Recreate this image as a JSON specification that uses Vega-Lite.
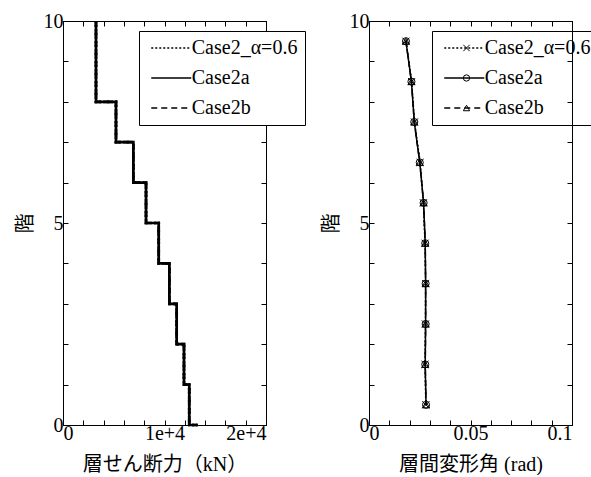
{
  "$schema": "https://vega.github.io/schema/vega-lite/v6.json",
  "background": "white",
  "padding": {"left": 14, "top": 10, "right": 0, "bottom": 0},
  "spacing": 14,
  "config": {
    "font": "Liberation Serif, Times New Roman, serif",
    "view": {"stroke": "black", "strokeWidth": 1},
    "axis": {
      "grid": false,
      "domainColor": "black",
      "tickColor": "black",
      "tickSize": -5,
      "labelFont": "Liberation Serif, Times New Roman, serif",
      "labelFontSize": 20,
      "labelColor": "black",
      "labelPadding": 3,
      "titleFont": "Liberation Serif, Noto Sans CJK JP, serif",
      "titleFontSize": 20,
      "titleFontWeight": "normal",
      "titleColor": "black"
    },
    "axisLeft": {"titlePadding": 8, "labelPadding": 5},
    "axisBottom": {"titlePadding": 11},
    "legend": {
      "labelFont": "Liberation Serif, Times New Roman, serif",
      "labelFontSize": 20,
      "labelColor": "black",
      "padding": 7,
      "rowPadding": 10
    }
  },
  "datasets": {
    "shear": [
      {"case": "Case2_α=0.6", "floor": 10, "Q": 3250},
      {"case": "Case2_α=0.6", "floor": 9, "Q": 3250},
      {"case": "Case2_α=0.6", "floor": 8, "Q": 5220},
      {"case": "Case2_α=0.6", "floor": 7, "Q": 6930},
      {"case": "Case2_α=0.6", "floor": 6, "Q": 8180},
      {"case": "Case2_α=0.6", "floor": 5, "Q": 9430},
      {"case": "Case2_α=0.6", "floor": 4, "Q": 10480},
      {"case": "Case2_α=0.6", "floor": 3, "Q": 11200},
      {"case": "Case2_α=0.6", "floor": 2, "Q": 11920},
      {"case": "Case2_α=0.6", "floor": 1, "Q": 12440},
      {"case": "Case2_α=0.6", "floor": 0, "Q": 13270},
      {"case": "Case2a", "floor": 10, "Q": 3250},
      {"case": "Case2a", "floor": 9, "Q": 3250},
      {"case": "Case2a", "floor": 8, "Q": 5220},
      {"case": "Case2a", "floor": 7, "Q": 6930},
      {"case": "Case2a", "floor": 6, "Q": 8180},
      {"case": "Case2a", "floor": 5, "Q": 9430},
      {"case": "Case2a", "floor": 4, "Q": 10480},
      {"case": "Case2a", "floor": 3, "Q": 11200},
      {"case": "Case2a", "floor": 2, "Q": 11920},
      {"case": "Case2a", "floor": 1, "Q": 12440},
      {"case": "Case2a", "floor": 0, "Q": 13270},
      {"case": "Case2b", "floor": 10, "Q": 3250},
      {"case": "Case2b", "floor": 9, "Q": 3250},
      {"case": "Case2b", "floor": 8, "Q": 5220},
      {"case": "Case2b", "floor": 7, "Q": 6930},
      {"case": "Case2b", "floor": 6, "Q": 8180},
      {"case": "Case2b", "floor": 5, "Q": 9430},
      {"case": "Case2b", "floor": 4, "Q": 10480},
      {"case": "Case2b", "floor": 3, "Q": 11200},
      {"case": "Case2b", "floor": 2, "Q": 11920},
      {"case": "Case2b", "floor": 1, "Q": 12440},
      {"case": "Case2b", "floor": 0, "Q": 13270}
    ],
    "drift": [
      {"case": "Case2_α=0.6", "floor": 9.5, "d": 0.0182},
      {"case": "Case2_α=0.6", "floor": 8.5, "d": 0.0210},
      {"case": "Case2_α=0.6", "floor": 7.5, "d": 0.0224},
      {"case": "Case2_α=0.6", "floor": 6.5, "d": 0.0252},
      {"case": "Case2_α=0.6", "floor": 5.5, "d": 0.0268},
      {"case": "Case2_α=0.6", "floor": 4.5, "d": 0.0276},
      {"case": "Case2_α=0.6", "floor": 3.5, "d": 0.0279},
      {"case": "Case2_α=0.6", "floor": 2.5, "d": 0.0278},
      {"case": "Case2_α=0.6", "floor": 1.5, "d": 0.0276},
      {"case": "Case2_α=0.6", "floor": 0.5, "d": 0.0280},
      {"case": "Case2a", "floor": 9.5, "d": 0.0182},
      {"case": "Case2a", "floor": 8.5, "d": 0.0209},
      {"case": "Case2a", "floor": 7.5, "d": 0.0223},
      {"case": "Case2a", "floor": 6.5, "d": 0.0250},
      {"case": "Case2a", "floor": 5.5, "d": 0.0269},
      {"case": "Case2a", "floor": 4.5, "d": 0.0277},
      {"case": "Case2a", "floor": 3.5, "d": 0.0279},
      {"case": "Case2a", "floor": 2.5, "d": 0.0279},
      {"case": "Case2a", "floor": 1.5, "d": 0.0277},
      {"case": "Case2a", "floor": 0.5, "d": 0.0281},
      {"case": "Case2b", "floor": 9.5, "d": 0.0182},
      {"case": "Case2b", "floor": 8.5, "d": 0.0209},
      {"case": "Case2b", "floor": 7.5, "d": 0.0223},
      {"case": "Case2b", "floor": 6.5, "d": 0.0250},
      {"case": "Case2b", "floor": 5.5, "d": 0.0269},
      {"case": "Case2b", "floor": 4.5, "d": 0.0277},
      {"case": "Case2b", "floor": 3.5, "d": 0.0279},
      {"case": "Case2b", "floor": 2.5, "d": 0.0279},
      {"case": "Case2b", "floor": 1.5, "d": 0.0277},
      {"case": "Case2b", "floor": 0.5, "d": 0.0281}
    ]
  },
  "hconcat": [
    {
      "width": 203,
      "height": 404,
      "data": {"name": "shear"},
      "layer": [
        {
          "mark": {"type": "line", "interpolate": "step-before", "strokeWidth": 2.7, "color": "black"},
          "encoding": {
            "x": {"field": "Q", "type": "quantitative",
              "scale": {"domain": [0, 20000], "nice": false, "zero": false},
              "axis": {"orient": "bottom", "values": [0,2000,4000,6000,8000,10000,12000,14000,16000,18000,20000],
                "labelExpr": "datum.value == 0 ? '0' : datum.value == 10000 ? '1e+4' : datum.value == 20000 ? '2e+4' : ''",
                "title": "層せん断力（kN）"}},
            "y": {"field": "floor", "type": "quantitative",
              "scale": {"domain": [0, 10], "nice": false},
              "axis": {"orient": "left", "values": [0,1,2,3,4,5,6,7,8,9,10],
                "labelExpr": "datum.value % 5 == 0 ? datum.label : ''",
                "title": "階"}},
            "order": {"field": "floor", "sort": "descending"},
            "strokeDash": {"field": "case", "type": "nominal",
              "scale": {"domain": ["Case2_α=0.6", "Case2a", "Case2b"], "range": [[2, 2], [1, 0], [6, 4]]},
              "legend": {"orient": "none", "legendX": 76, "legendY": 10, "title": null,
                "symbolType": "M-4,0H4", "symbolSize": 100, "symbolStrokeWidth": 1.5, "symbolStrokeColor": "black",
                "symbolOffset": 15.25, "labelOffset": 10.5, "strokeColor": "black", "fillColor": "white"}}
          }
        },
        {
          "mark": {"type": "line", "opacity": 0},
          "encoding": {
            "x": {"field": "Q", "type": "quantitative",
              "axis": {"orient": "top", "values": [0,2000,4000,6000,8000,10000,12000,14000,16000,18000,20000], "labels": false, "title": null}},
            "y": {"field": "floor", "type": "quantitative",
              "axis": {"orient": "right", "values": [0,1,2,3,4,5,6,7,8,9,10], "labels": false, "title": null}},
            "order": {"field": "floor", "sort": "descending"},
            "detail": {"field": "case"}
          }
        }
      ],
      "resolve": {"axis": {"x": "independent", "y": "independent"}}
    },
    {
      "width": 203,
      "height": 404,
      "data": {"name": "drift"},
      "layer": [
        {
          "mark": {"type": "line", "strokeWidth": 1.5, "color": "black"},
          "encoding": {
            "x": {"field": "d", "type": "quantitative",
              "scale": {"domain": [0, 0.1], "nice": false},
              "axis": {"orient": "bottom", "values": [0,0.01,0.02,0.03,0.04,0.05,0.06,0.07,0.08,0.09,0.1],
                "labelExpr": "datum.value == 0 ? '0' : abs(datum.value - 0.05) < 1e-9 ? '0.05' : abs(datum.value - 0.1) < 1e-9 ? '0.1' : ''",
                "title": "層間変形角 (rad)"}},
            "y": {"field": "floor", "type": "quantitative",
              "scale": {"domain": [0, 10], "nice": false},
              "axis": {"orient": "left", "values": [0,1,2,3,4,5,6,7,8,9,10],
                "labelExpr": "datum.value % 5 == 0 ? datum.label : ''",
                "title": "階"}},
            "order": {"field": "floor", "sort": "descending"},
            "strokeDash": {"field": "case", "type": "nominal",
              "scale": {"domain": ["Case2_α=0.6", "Case2a", "Case2b"], "range": [[2, 2], [1, 0], [6, 4]]},
              "legend": {"orient": "none", "legendX": 63, "legendY": 10, "title": null,
                "symbolType": "M-4,0H4", "symbolSize": 100, "symbolStrokeWidth": 1.5, "symbolStrokeColor": "black",
                "symbolOffset": 15.25, "labelOffset": 10.5, "strokeColor": "black"}}
          }
        },
        {
          "mark": {"type": "point", "filled": false, "stroke": "black", "strokeWidth": 1, "size": 50, "opacity": 1},
          "encoding": {
            "x": {"field": "d", "type": "quantitative",
              "axis": {"orient": "top", "values": [0,0.01,0.02,0.03,0.04,0.05,0.06,0.07,0.08,0.09,0.1], "labels": false, "title": null}},
            "y": {"field": "floor", "type": "quantitative",
              "axis": {"orient": "right", "values": [0,1,2,3,4,5,6,7,8,9,10], "labels": false, "title": null}},
            "shape": {"field": "case", "type": "nominal",
              "scale": {"range": ["M-1,-1L1,1M-1,1L1,-1", "circle", "triangle-up"]},
              "legend": {"orient": "none", "legendX": 63, "legendY": 10, "title": null,
                "symbolSize": 40, "symbolStrokeColor": "black", "symbolFillColor": "white", "symbolStrokeWidth": 1,
                "symbolOffset": 17.5, "labelColor": "transparent", "strokeColor": "transparent"}}
          }
        }
      ],
      "resolve": {"axis": {"x": "independent", "y": "independent"}}
    }
  ],
  "resolve": {"scale": {"strokeDash": "independent", "x": "independent", "y": "independent"}, "legend": {"strokeDash": "independent", "shape": "independent"}}
}
